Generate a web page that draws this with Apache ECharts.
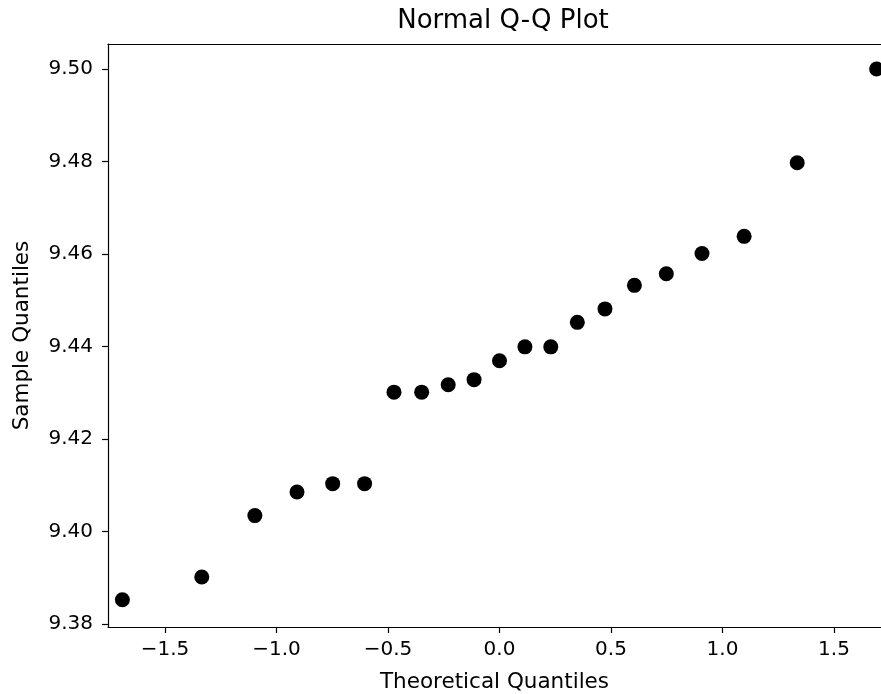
<!DOCTYPE html>
<html>
<head>
<meta charset="utf-8">
<script src="https://cdn.jsdelivr.net/npm/echarts@6/dist/echarts.min.js"></script>
<style>
  html, body { margin: 0; padding: 0; background: #fff; }
  #chart { width: 881px; height: 694px; }
</style>
</head>
<body>
<div id="chart"></div>
<script>
// theoretical normal quantiles (x) and sorted sample values (y)
const theoreticalQ = [-1.691, -1.335, -1.097, -0.908, -0.748, -0.605, -0.473, -0.349, -0.230, -0.114,
  0.000, 0.114, 0.230, 0.349, 0.473, 0.605, 0.748, 0.908, 1.097, 1.335, 1.691]
const sampleQ = [9.3852, 9.3901, 9.4034, 9.4085, 9.4103, 9.4103, 9.4301, 9.4301, 9.4317, 9.4328,
  9.4369, 9.4399, 9.4399, 9.4452, 9.4481, 9.4532, 9.4557, 9.4601, 9.4638, 9.4797, 9.5000]
const xTicks = [-1.5, -1.0, -0.5, 0.0, 0.5, 1.0, 1.5]
const yTicks = [9.38, 9.40, 9.42, 9.44, 9.46, 9.48, 9.50]

const FONT = 'DejaVu Sans'
const chart = echarts.init(document.getElementById('chart'))

const points = theoreticalQ.map((x, i) => [x, sampleQ[i]])
const axisLineStyle = { color: '#000', width: 1.2 }

const option = {
  animation: false,
  backgroundColor: '#fff',
  title: {
    text: 'Normal Q-Q Plot',
    left: 498,
    top: 3,
    textAlign: 'center',
    textStyle: { fontFamily: FONT, fontSize: 26, fontWeight: 'normal', color: '#000' }
  },
  // fixed plot box, no auto-shrinking for labels
  grid: { left: 108, right: 0, top: 44, bottom: 67, containLabel: false, outerBoundsMode: 'none' },
  xAxis: [
    {
      type: 'value',
      min: -1.7555,
      max: 1.7107,
      name: 'Theoretical Quantiles',
      nameLocation: 'middle',
      nameGap: 44,
      nameTextStyle: { fontFamily: FONT, fontSize: 21.5, color: '#000' },
      splitLine: { show: false },
      axisLine: { show: true, onZero: false, lineStyle: axisLineStyle },
      axisTick: { show: true, length: 6, customValues: xTicks, lineStyle: axisLineStyle },
      axisLabel: {
        customValues: xTicks,
        margin: 13,
        fontFamily: FONT,
        fontSize: 20,
        color: '#000',
        formatter: v => v.toFixed(1).replace('-', '\u2212')
      }
    },
    {
      // top spine
      type: 'value',
      position: 'top',
      min: -1.7555,
      max: 1.7107,
      splitLine: { show: false },
      axisLine: { show: true, onZero: false, lineStyle: axisLineStyle },
      axisTick: { show: false },
      axisLabel: { show: false }
    }
  ],
  yAxis: {
    type: 'value',
    min: 9.3793,
    max: 9.5054,
    name: 'Sample Quantiles',
    nameLocation: 'middle',
    nameGap: 75,
    nameTextStyle: { fontFamily: FONT, fontSize: 21.5, color: '#000' },
    splitLine: { show: false },
    axisLine: { show: true, onZero: false, lineStyle: axisLineStyle },
    axisTick: { show: true, length: 6, customValues: yTicks, lineStyle: axisLineStyle },
    axisLabel: {
      customValues: yTicks,
      margin: 15,
      fontFamily: FONT,
      fontSize: 20,
      color: '#000',
      formatter: v => v.toFixed(2)
    }
  },
  series: [
    {
      type: 'scatter',
      xAxisIndex: 0,
      data: points,
      symbol: 'circle',
      symbolSize: 15,
      itemStyle: { color: '#000', opacity: 1 }
    }
  ]
}

chart.setOption(option)
</script>
</body>
</html>
